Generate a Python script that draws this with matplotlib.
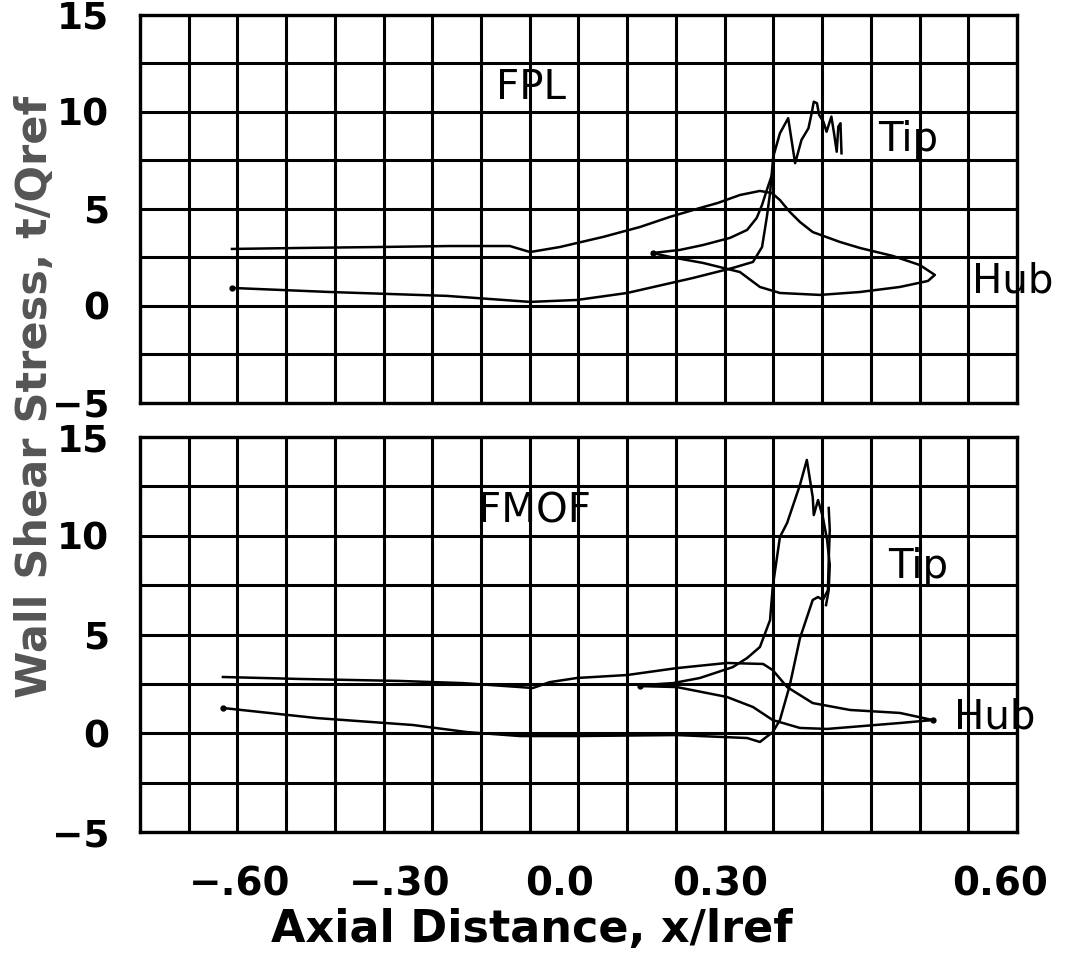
import numpy as np
import matplotlib
matplotlib.use("Agg")
import matplotlib.pyplot as plt

# axis layout (x runs a bit uneven in the original labels)
X_LIM = (-0.7875, 0.857)
Y_LIM = (-5, 15)
x_tick_pos = [-0.60, -0.30, 0.0, 0.30, 0.825]
x_tick_labels = ['\u2212.60', '\u2212.30', '0.0', '0.30', '0.60']
y_ticks = [-5, 0, 5, 10, 15]
y_tick_labels = ['\u22125', '0', '5', '10', '15']

# ---- FPL panel ----
fpl_hub_x = [-0.615, -0.4875, -0.3375, -0.206, -0.094, -0.056, 0.0, 0.081, 0.15, 0.206,
             0.2625, 0.296, 0.3375, 0.375, 0.3975, 0.4125, 0.431, 0.45, 0.474, 0.525,
             0.5625, 0.624, 0.675, 0.703, 0.69, 0.6375, 0.5625, 0.4875, 0.4125, 0.375,
             0.3375, 0.268, 0.206, 0.174]
fpl_hub_y = [2.94, 2.99, 3.04, 3.09, 3.09, 2.78, 3.04, 3.56, 4.07, 4.59,
             5.05, 5.31, 5.72, 5.93, 5.82, 5.46, 4.85, 4.33, 3.81, 3.30,
             2.99, 2.58, 2.11, 1.60, 1.29, 0.98, 0.72, 0.57, 0.67, 0.98,
             1.75, 2.22, 2.53, 2.73]

fpl_tip_lo_x = [-0.615, -0.431, -0.212, -0.056, 0.032, 0.126, 0.249, 0.324, 0.362, 0.379,
                0.388, 0.394, 0.40, 0.4125, 0.428, 0.441, 0.453, 0.466, 0.472, 0.476,
                0.482, 0.486, 0.494, 0.500, 0.505, 0.509, 0.514, 0.519, 0.522, 0.526, 0.528]
fpl_tip_lo_y = [0.93, 0.72, 0.52, 0.21, 0.31, 0.67, 1.44, 1.96, 2.27, 3.04,
                4.59, 5.82, 7.70, 8.90, 9.68, 7.36, 8.56, 9.16, 9.93, 10.53,
                10.45, 9.85, 9.50, 8.98, 9.42, 9.76, 8.90, 7.95, 9.24, 9.42, 7.87]

fpl_tip_up_x = [0.174, 0.225, 0.268, 0.319, 0.351, 0.369, 0.379, 0.388, 0.3975]
fpl_tip_up_y = [2.73, 2.89, 3.14, 3.51, 3.92, 4.54, 5.21, 5.98, 6.75]

# ---- FMOF panel ----
fmof_hub_x = [-0.632, -0.4875, -0.30, -0.182, -0.075, -0.051, -0.019, 0.032, 0.126, 0.219,
              0.313, 0.381, 0.399, 0.426, 0.474, 0.544, 0.6375, 0.699,
              0.6375, 0.501, 0.45, 0.399, 0.362, 0.313, 0.219, 0.15]
fmof_hub_y = [2.85, 2.75, 2.65, 2.54, 2.34, 2.29, 2.59, 2.80, 2.95, 3.30,
              3.56, 3.51, 3.20, 2.34, 1.53, 1.18, 1.03, 0.67,
              0.52, 0.22, 0.27, 0.67, 1.33, 1.84, 2.34, 2.39]

fmof_tip_lo_x = [-0.632, -0.456, -0.276, -0.174, -0.075, 0.032, 0.219, 0.351, 0.375, 0.399,
                 0.4125, 0.431, 0.45, 0.474, 0.484, 0.493, 0.5025, 0.504, 0.506, 0.504]
fmof_tip_lo_y = [1.28, 0.77, 0.42, 0.06, -0.14, -0.14, -0.09, -0.24, -0.44, 0.06,
                 0.67, 2.43, 4.81, 6.75, 6.90, 6.75, 7.25, 8.77, 10.29, 11.41]

fmof_tip_up_x = [0.154, 0.212, 0.2625, 0.324, 0.351, 0.375, 0.394, 0.399, 0.4125, 0.426,
                 0.45, 0.463, 0.474, 0.476, 0.484, 0.493, 0.501, 0.506, 0.504, 0.499]
fmof_tip_up_y = [2.44, 2.54, 2.80, 3.35, 3.81, 4.37, 5.73, 7.41, 9.94, 10.65,
                 12.57, 13.84, 11.96, 11.05, 11.81, 10.95, 9.78, 8.52, 7.25, 6.49]


def setup_axes(ax, show_x):
    ax.set_xlim(*X_LIM)
    ax.set_ylim(*Y_LIM)
    ax.set_xticks(np.linspace(X_LIM[0], X_LIM[1], 19), minor=True)
    ax.set_yticks(y_ticks)
    ax.set_yticks([-2.5, 2.5, 7.5, 12.5], minor=True)
    ax.set_yticklabels(y_tick_labels, fontsize=27, fontweight='bold')
    if show_x:
        ax.set_xticks(x_tick_pos)
        ax.set_xticklabels(x_tick_labels, fontsize=28, fontweight='bold')
    else:
        ax.set_xticks([])
    ax.tick_params(which='both', length=0)
    ax.tick_params(axis='y', pad=22)
    ax.tick_params(axis='x', pad=24)
    # grid: every minor x line, every y line (major and minor)
    ax.grid(which='minor', axis='x', color='black', lw=2.2)
    ax.grid(which='both', axis='y', color='black', lw=2.2)
    for s in ax.spines.values():
        s.set_linewidth(2.4)


fig = plt.figure(figsize=(10.67, 9.65), dpi=100)
ax1 = fig.add_axes([0.1312, 0.5824, 0.8219, 0.4021])
ax2 = fig.add_axes([0.1312, 0.1378, 0.8219, 0.4093])

setup_axes(ax1, False)
setup_axes(ax2, True)

line_kw = dict(color='black', lw=1.8, zorder=3)
ax1.plot(fpl_hub_x, fpl_hub_y, **line_kw)
ax1.plot(fpl_tip_lo_x, fpl_tip_lo_y, **line_kw)
ax1.plot(fpl_tip_up_x, fpl_tip_up_y, **line_kw)
ax1.plot([fpl_hub_x[-1], fpl_tip_lo_x[0]], [fpl_hub_y[-1], fpl_tip_lo_y[0]],
         ls='none', marker='o', ms=3.5, color='black', zorder=3)

ax2.plot(fmof_hub_x, fmof_hub_y, **line_kw)
ax2.plot(fmof_tip_lo_x, fmof_tip_lo_y, **line_kw)
ax2.plot(fmof_tip_up_x, fmof_tip_up_y, **line_kw)
ax2.plot([fmof_hub_x[-1], fmof_hub_x[17], fmof_tip_lo_x[0]],
         [fmof_hub_y[-1], fmof_hub_y[17], fmof_tip_lo_y[0]],
         ls='none', marker='o', ms=3.5, color='black', zorder=3)

txt = dict(fontsize=29, ha='center', va='center', clip_on=False, zorder=4)
ax1.text(-0.054, 11.24, 'FPL', **txt)
ax1.text(0.6525, 8.56, 'Tip', **txt)
ax1.text(0.849, 1.24, 'Hub', **txt)
ax2.text(-0.047, 11.25, 'FMOF', **txt)
ax2.text(0.671, 8.42, 'Tip', **txt)
ax2.text(0.816, 0.82, 'Hub', **txt)

fig.text(35 / 1067, 1 - 397 / 965, 'Wall Shear Stress, t/Qref', rotation=90,
         ha='center', va='center', fontsize=31, fontweight='bold', color='#555555')
fig.text(532 / 1067, 1 - 930 / 965, 'Axial Distance, x/lref',
         ha='center', va='center', fontsize=32, fontweight='bold')

fig.savefig('out.png', dpi=100)
